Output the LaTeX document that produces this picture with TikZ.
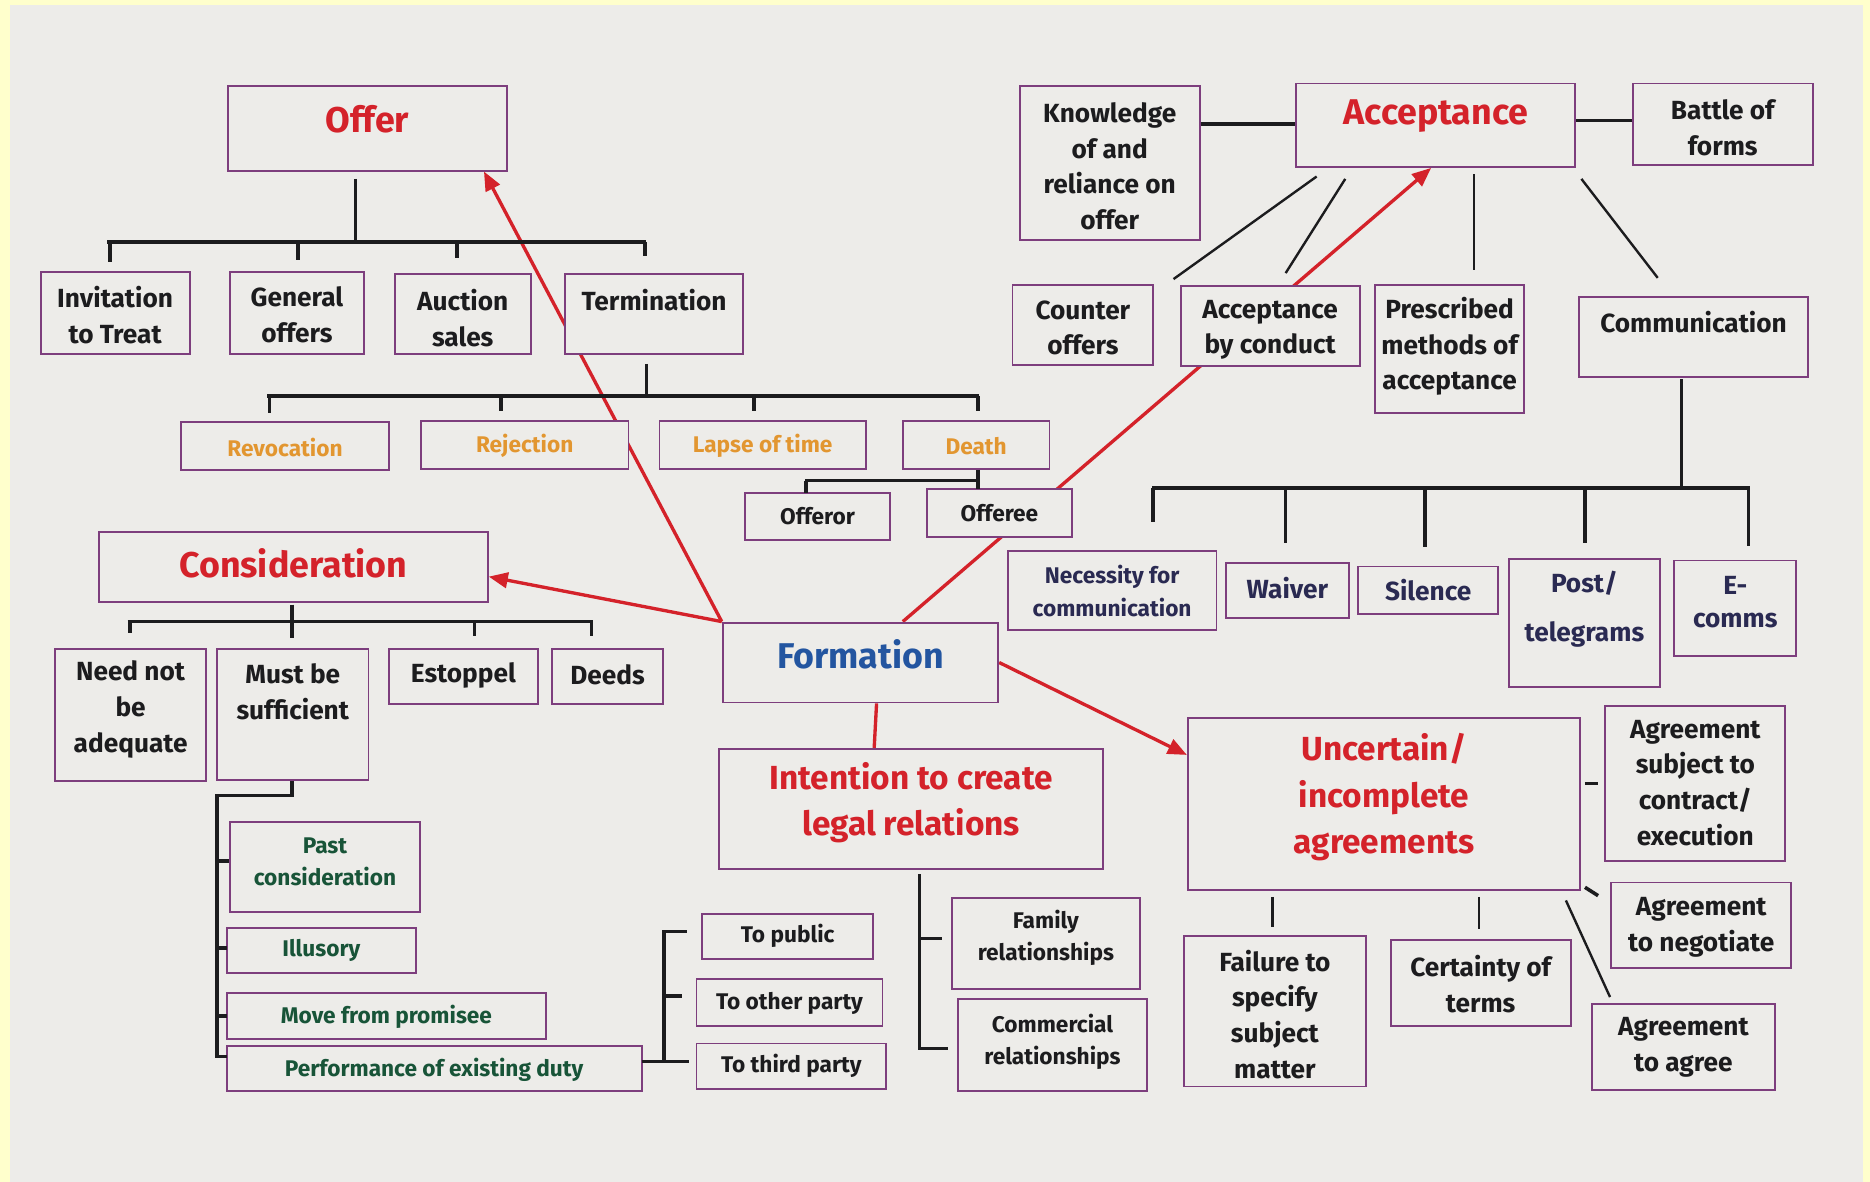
\documentclass[tikz,border=0pt]{standalone}
\usepackage{fontspec}
\setmainfont{Fira Sans}
\usetikzlibrary{arrows.meta}
\definecolor{yel}{RGB}{255,255,204}
\definecolor{photo}{RGB}{237,236,233}
\definecolor{boxc}{RGB}{125,62,125}
\definecolor{redc}{RGB}{212,34,42}
\definecolor{orc}{RGB}{226,150,48}
\definecolor{bluc}{RGB}{35,85,160}
\definecolor{grc}{RGB}{24,84,56}
\definecolor{navc}{RGB}{42,42,82}
\definecolor{blk}{RGB}{28,28,30}
\pgfdeclarelayer{bg}
\pgfdeclarelayer{lines}
\pgfsetlayers{bg,lines,main}
\tikzset{
  box/.style={draw=boxc, line width=0.8pt, fill=photo, inner sep=0pt},
  txt/.style={align=center, inner sep=0pt, text=blk, font=\bfseries\fontsize{11}{15}\selectfont},
  sml/.style={font=\bfseries\fontsize{9.5}{13.5}\selectfont},
  ttl/.style={font=\bfseries\fontsize{15}{18}\selectfont},
  ttlm/.style={font=\bfseries\fontsize{14}{19.5}\selectfont},
  tree/.style={draw=blk, line width=1.5pt},
  thin/.style={draw=blk, line width=1pt},
  redln/.style={draw=redc, line width=1.4pt},
  redarr/.style={draw=redc, line width=1.4pt, -{Triangle[length=8pt,width=6.5pt]}},
}
\newcommand\bx[8]{%
  \node[box,minimum width={(#4-#2)*0.5pt},minimum height={(#5-#3)*0.5pt}] (#1) at ({(#2+#4)/2},{(#3+#5)/2}) {};
  \node[txt,#7] (#1t) at ({(#2+#4)/2},#6) {#8};}
\begin{document}
\begin{tikzpicture}[x=0.5pt,y=-0.5pt]
\begin{pgfonlayer}{bg}
\fill[yel] (0,0) rectangle (1568,991);
\fill[photo] (8.4,4.2) rectangle (1562,991);
\end{pgfonlayer}
\useasboundingbox (0,0) rectangle (1568,991);

% ---------- Offer ----------
\bx{offer}{191}{72}{425}{143}{100}{ttl,text=redc}{Offer}
\bx{invit}{34}{228}{159}{297}{264}{}{Invitation\\to Treat}
\bx{gen}{193}{228}{305}{297}{264}{}{General\\offers}
\bx{auction}{331}{230}{445}{297}{266.5}{}{Auction\\sales}
\bx{term}{474}{230}{623}{297}{252}{}{Termination}
\bx{revoc}{152}{354}{326}{394}{375}{sml,text=orc}{Revocation}
\bx{reject}{353}{353}{527}{393}{374}{sml,text=orc}{Rejection}
\bx{lapse}{553}{353}{726}{393}{374}{sml,text=orc}{Lapse of time}
\bx{death}{757}{353}{880}{393}{374}{sml,text=orc}{Death}
\bx{offeror}{625}{413}{746}{453}{433}{sml}{Offeror}
\bx{offeree}{777}{410}{899}{450}{430}{sml}{Offeree}

% ---------- Consideration ----------
\bx{cons}{83}{446}{409}{505}{472}{ttl,text=redc}{Consideration}
\bx{needn}{46}{544}{173}{655}{595}{}{Need not\\be\\adequate}
\bx{must}{182}{544}{309}{654}{580}{}{Must be\\sufficient}
\bx{estop}{326}{544}{451}{590}{566}{}{Estoppel}
\bx{deeds}{463}{544}{556}{590}{566}{}{Deeds}
\bx{past}{193}{689}{352}{765}{722.5}{sml,text=grc}{Past\\consideration}
\bx{illus}{190}{778}{349}{816}{797}{sml,text=grc}{Illusory}
\bx{move}{190}{833}{458}{871}{853}{sml,text=grc}{Move from promisee}
\bx{perf}{190}{877}{538}{915}{897}{sml,text=grc}{Performance of existing duty}
\bx{topub}{589}{766}{732}{804}{785}{sml}{To public}
\bx{tooth}{584}{821}{740}{860}{841}{sml}{To other party}
\bx{tothird}{584}{875}{743}{913}{894}{sml}{To third party}

% ---------- Formation / Intention ----------
\bx{form}{606}{522}{837}{589}{549}{ttl,text=bluc}{Formation}
\bx{intent}{603}{628}{925}{729}{673}{ttlm,text=redc}{Intention to create\\legal relations}
\bx{family}{798}{753}{956}{829}{786.5}{sml}{Family\\relationships}
\bx{commer}{803}{838}{962}{915}{873.5}{sml}{Commercial\\relationships}

% ---------- Uncertain ----------
\bx{uncert}{996}{602}{1325}{746}{668.5}{ttlm,text=redc}{Uncertain/\\incomplete\\agreements}
\bx{fail}{993}{785}{1145}{911}{850.5}{}{Failure to\\specify\\subject\\matter}
\bx{cert}{1166}{788}{1317}{860}{825}{}{Certainty of\\terms}
\bx{agree}{1335}{842}{1488}{914}{878}{}{Agreement\\to agree}
\bx{subj}{1346}{592}{1497}{722}{656.5}{}{Agreement\\subject to\\contract/\\execution}
\bx{negot}{1351}{740}{1502}{812}{777.5}{}{Agreement\\to negotiate}

% ---------- Acceptance ----------
\bx{accept}{1087}{70}{1321}{140}{97}{ttl,text=redc}{Acceptance}
\bx{know}{855}{72}{1006}{201}{139.5}{}{Knowledge\\of and\\reliance on\\offer}
\bx{battle}{1369}{70}{1520}{138}{107}{}{Battle of\\forms}
\bx{counter}{849}{239}{967}{306}{275}{}{Counter\\offers}
\bx{byc}{990}{240}{1140}{307}{276.5}{}{Acceptance\\by conduct}
\bx{presc}{1153}{239}{1278}{346}{290.5}{}{Prescribed\\methods of\\acceptance}
\bx{commun}{1324}{249}{1516}{316}{270}{}{Communication}
\bx{necess}{845}{462}{1020}{528}{495.5}{sml,text=navc}{Necessity for\\communication}
\bx{waiver}{1028}{472}{1131}{518}{493}{text=navc}{Waiver}
\bx{silence}{1139}{475}{1256}{515}{495}{text=navc}{Silence}
\bx{post}{1265}{469}{1392}{576}{510.5}{text=navc}{Post/\\[5.5pt]telegrams}
\bx{ecomm}{1404}{470}{1506}{550}{505}{text=navc,font=\bfseries\fontsize{11}{14}\selectfont}{E-\\comms}

% ---------- red connectors (behind boxes) ----------
\begin{pgfonlayer}{lines}
\draw[redarr] (form.north west) -- ([xshift=-10pt]offer.south east);
\draw[redarr] (form.north west) -- ([yshift=-4pt]cons.east);
\draw[redarr] ([xshift=17.75pt]form.north) -- ([xshift=-2pt]accept.south);
\draw[redarr] (form.east) -- ([yshift=20.5pt]uncert.west);
\draw[redln] ([xshift=6.75pt]form.south) -- ([xshift=-15.5pt]intent.north);
\end{pgfonlayer}

% ---------- black trees ----------
% Offer
\draw[tree] (298,150) -- (298,203);
\draw[tree] (90,203) -- (542,203);
\draw[tree] (92,203) -- (92,220) (250,203) -- (250,218) (383,203) -- (383,216) (541,203) -- (541,215);
% Termination
\draw[tree] (542,305) -- (542,332);
\draw[tree] (224,332) -- (821,332);
\draw[tree] (226,332) -- (226,346) (420,332) -- (420,345) (632,332) -- (632,345) (820,332) -- (820,345);
% Death
\draw[tree] (820,394) -- (820,403);
\draw[tree] (675,403) -- (821,403);
\draw[tree] (676,403) -- (676,413) (820,403) -- (820,410);
% Consideration
\draw[tree] (245,507) -- (245,535);
\draw[tree] (107,521) -- (497,521);
\draw[tree] (109,521) -- (109,531) (398,521) -- (398,533) (496,521) -- (496,533);
% Must be sufficient
\draw[tree] (245,655) -- (245,667) -- (182,667) -- (182,886) -- (190,886);
\draw[tree] (182,722) -- (192,722) (182,795) -- (190,795) (182,852) -- (190,852);
% Performance -> To ...
\draw[tree] (538,890) -- (557,890);
\draw[tree] (576,781) -- (557,781) -- (557,890) -- (578,890);
\draw[tree] (557,835) -- (572,835);
% Intention
\draw[tree] (771,733) -- (771,879) -- (795,879);
\draw[tree] (771,787) -- (790,787);
% Uncertain
\draw[thin] (1067,752) -- (1067,777);
\draw[thin] (1240,752) -- (1240,779);
\draw[thin] (1313,755) -- (1350,836);
\draw[tree] (1329,657) -- (1340,657);
\draw[tree] (1329,744) -- (1340,751);
% Acceptance
\draw[tree] (know.east |- 0,104) -- (accept.west |- 0,104);
\draw[tree] (accept.east |- 0,101) -- (battle.west |- 0,101);
\draw[thin] (1104,148) -- (984,234);
\draw[thin] (1128,150) -- (1078,229);
\draw[thin] (1236,146) -- (1236,226);
\draw[thin] (1326,150) -- (1390,233);
% Communication
\draw[tree] (1410,318) -- (1410,409);
\draw[tree] (966,409) -- (1467,409);
\draw[tree] (967,409) -- (967,438) (1078,409) -- (1078,455) (1195,409) -- (1195,459) (1329,409) -- (1329,455) (1466,409) -- (1466,458);
\end{tikzpicture}
\end{document}
